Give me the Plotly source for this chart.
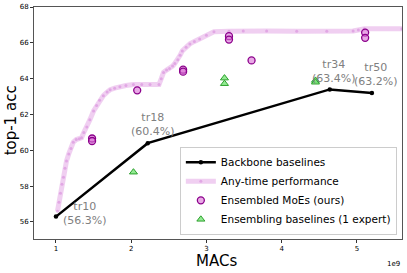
import plotly.graph_objects as go

# Backbone baselines
bb_names = ["tr10", "tr18", "tr34", "tr50"]
bb_macs = [1.00, 2.22, 4.64, 5.20]
bb_acc = [56.3, 60.4, 63.4, 63.2]

# Any-time performance curve
at_macs = [1.02, 1.04, 1.06, 1.08, 1.10, 1.12, 1.14, 1.17, 1.20, 1.23, 1.27, 1.31, 1.34,
           1.37, 1.41, 1.45, 1.50, 1.54, 1.58, 1.63, 1.68, 1.72, 1.78, 1.85, 1.93, 2.03,
           2.14, 2.25, 2.37, 2.40, 2.43, 2.47, 2.51, 2.55, 2.58, 2.62, 2.65, 2.68, 2.73,
           2.78, 2.84, 2.91, 3.00, 3.10, 3.30, 3.49, 3.80, 4.20, 4.60, 4.95, 5.02, 5.10, 5.60]
at_acc = [56.6, 57.1, 57.6, 58.1, 58.5, 59.0, 59.4, 59.8, 60.1, 60.45, 60.6, 60.65, 60.7,
          61.0, 61.3, 61.7, 62.2, 62.5, 62.8, 63.05, 63.25, 63.38, 63.47, 63.55, 63.62, 63.67,
          63.68, 63.68, 63.68, 64.0, 64.35, 64.48, 64.57, 64.7, 64.85, 65.05, 65.3, 65.55, 65.75,
          65.94, 66.08, 66.22, 66.42, 66.62, 66.64, 66.66, 66.66, 66.65, 66.65, 66.66, 66.72, 66.78, 66.78]

# Ensembled MoEs (ours)
moe_macs = [1.48, 1.48, 2.08, 2.69, 2.69, 3.30, 3.30, 3.60, 5.11, 5.11]
moe_acc = [60.66, 60.52, 63.35, 64.5, 64.39, 66.37, 66.18, 65.02, 66.57, 66.28]

# Ensembling baselines (1 expert)
ens_macs = [2.03, 3.24, 3.24, 4.45, 4.45]
ens_acc = [58.78, 64.03, 63.72, 63.9, 63.8]

fig = go.Figure()

fig.add_trace(go.Scatter(
    x=bb_macs, y=bb_acc, mode="lines+markers", name="Backbone baselines",
    line=dict(color="black", width=2.5), marker=dict(color="black", size=4.5)))

fig.add_trace(go.Scatter(
    x=at_macs, y=at_acc, mode="lines+markers", name="Any-time performance",
    line=dict(color="rgba(225,160,228,0.5)", width=5),
    marker=dict(color="rgba(215,140,220,0.6)", size=3)))

fig.add_trace(go.Scatter(
    x=moe_macs, y=moe_acc, mode="markers", name="Ensembled MoEs (ours)",
    marker=dict(symbol="circle", size=7, color="rgba(218,112,214,0.6)",
                line=dict(color="#8b008b", width=1.3))))

fig.add_trace(go.Scatter(
    x=ens_macs, y=ens_acc, mode="markers", name="Ensembling baselines (1 expert)",
    marker=dict(symbol="triangle-up", size=7, color="rgba(120,230,120,0.8)",
                line=dict(color="#2ca02c", width=1))))

shifts = [(29, 3), (5, 19), (4, 18), (4, 18)]
for n, xv, yv, (dx, dy) in zip(bb_names, bb_macs, bb_acc, shifts):
    fig.add_annotation(x=xv, y=yv, text=f"{n}<br>({yv:.1f}%)", showarrow=False,
                       xshift=dx, yshift=dy, font=dict(size=11, color="gray",
                                                       family="DejaVu Sans"),
                       align="center")

fig.add_annotation(xref="paper", yref="paper", x=1.0, y=-0.08, xanchor="right",
                   yanchor="top", text="1e9", showarrow=False,
                   font=dict(size=7, color="black", family="DejaVu Sans"))
fig.add_annotation(xref="paper", yref="paper", x=0.497, y=-0.095, xanchor="center",
                   yanchor="middle", text="MACs", showarrow=False, borderpad=0,
                   font=dict(size=15, color="black", family="DejaVu Sans"))
fig.add_annotation(xref="paper", yref="paper", x=-0.06, y=0.511, xanchor="center",
                   yanchor="middle", text="top-1 acc", showarrow=False, textangle=-90,
                   font=dict(size=15, color="black", family="DejaVu Sans"))

axis_common = dict(showline=True, linecolor="#555", linewidth=1, mirror=True,
                   showgrid=False, zeroline=False, ticks="outside", ticklen=3,
                   automargin=False,
                   tickcolor="#333", tickfont=dict(size=7, color="black",
                                                   family="DejaVu Sans"))

fig.update_layout(
    width=407, height=273,
    margin=dict(l=34, r=5, t=7, b=34),
    plot_bgcolor="white", paper_bgcolor="white",
    font=dict(family="DejaVu Sans"),
    xaxis=dict(range=[0.708, 5.60], tickvals=[1, 2, 3, 4, 5], ticktext=["1", "2", "3", "4", "5"],
               **axis_common),
    yaxis=dict(range=[55.05, 68.0], tickvals=[56, 58, 60, 62, 64, 66, 68],
               **axis_common),
    legend=dict(x=0.986, y=0.018, xanchor="right", yanchor="bottom",
                bgcolor="rgba(255,255,255,0.85)", bordercolor="#ccc", borderwidth=1,
                font=dict(size=10.5, color="black"), itemwidth=30, tracegroupgap=0),
    showlegend=True,
)

fig.write_html("out.html", config={"displayModeBar": False},
               post_script="document.body.style.margin='0';document.body.style.overflow='hidden';")
